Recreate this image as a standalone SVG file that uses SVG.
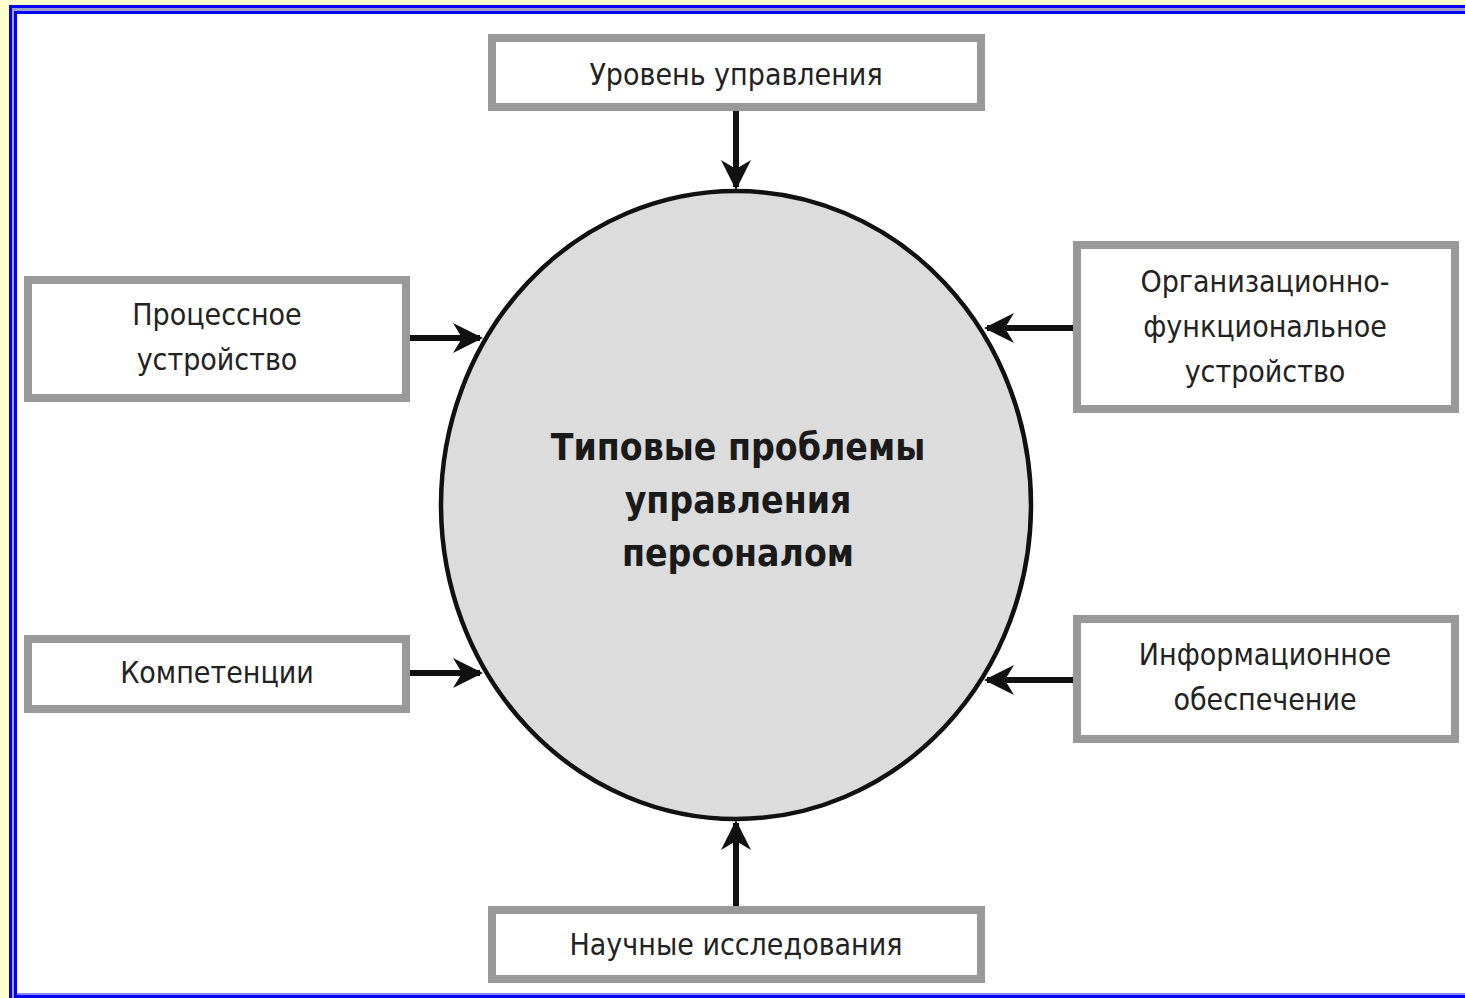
<svg xmlns="http://www.w3.org/2000/svg" width="1465" height="998" viewBox="0 0 1465 998">
<defs>
<style>
.box{fill:#fff;stroke:#999;stroke-width:8}
.lbl{font-family:"DejaVu Sans Condensed","DejaVu Sans",sans-serif;font-size:30px;fill:#222;text-anchor:middle}
.ttl{font-family:"DejaVu Sans Condensed","DejaVu Sans",sans-serif;font-weight:bold;font-size:37px;fill:#1a1a1a;text-anchor:middle}
.con{stroke:#111;stroke-width:6;fill:none}
</style>
<marker id="ah" viewBox="0 0 10 10" refX="9" refY="5" markerWidth="6" markerHeight="5" markerUnits="strokeWidth" orient="auto">
<path d="M0,0 L10,5 L0,10 L3,5 Z" fill="#111"/>
</marker>
</defs>
<rect x="0" y="0" width="1465" height="998" fill="#ffffcc"/>
<rect x="9" y="5" width="1470" height="1000" fill="#0000ff"/>
<rect x="12" y="8" width="1470" height="990" fill="#a0a0c8"/>
<rect x="14" y="11" width="1470" height="990" fill="#0000ff"/>
<rect x="17" y="14" width="1470" height="979" fill="#ffffff"/>
<rect x="17" y="993" width="1470" height="2" fill="#8888ff"/>

<g id="center">
<ellipse cx="736" cy="505" rx="295" ry="314" fill="#dcdcdc" stroke="#111" stroke-width="4.5"/>
<text class="ttl" x="738" y="460">Типовые проблемы</text>
<text class="ttl" x="738" y="513">управления</text>
<text class="ttl" x="738" y="566">персоналом</text>
</g>

<g id="n-top">
<rect class="box" x="492" y="38" width="489" height="69"/>
<text class="lbl" x="736" y="85">Уровень управления</text>
</g>
<g id="n-process">
<rect class="box" x="28" y="280" width="378" height="118"/>
<text class="lbl" x="217" y="325">Процессное</text>
<text class="lbl" x="217" y="370">устройство</text>
</g>
<g id="n-comp">
<rect class="box" x="28" y="639" width="378" height="70"/>
<text class="lbl" x="217" y="683">Компетенции</text>
</g>
<g id="n-org">
<rect class="box" x="1077" y="245" width="378" height="164"/>
<text class="lbl" x="1265" y="292">Организационно-</text>
<text class="lbl" x="1265" y="337">функциональное</text>
<text class="lbl" x="1265" y="382">устройство</text>
</g>
<g id="n-info">
<rect class="box" x="1077" y="619" width="378" height="120"/>
<text class="lbl" x="1265" y="665">Информационное</text>
<text class="lbl" x="1265" y="710">обеспечение</text>
</g>
<g id="n-bottom">
<rect class="box" x="492" y="910" width="489" height="69"/>
<text class="lbl" x="736" y="955">Научные исследования</text>
</g>

<g id="connectors">
<line class="con" x1="736" y1="111" x2="736" y2="187" marker-end="url(#ah)"/>
<line class="con" x1="410" y1="338" x2="480" y2="338" marker-end="url(#ah)"/>
<line class="con" x1="410" y1="673" x2="480" y2="673" marker-end="url(#ah)"/>
<line class="con" x1="1073" y1="328" x2="987" y2="328" marker-end="url(#ah)"/>
<line class="con" x1="1073" y1="680" x2="987" y2="680" marker-end="url(#ah)"/>
<line class="con" x1="736" y1="906" x2="736" y2="823" marker-end="url(#ah)"/>
</g>
</svg>
